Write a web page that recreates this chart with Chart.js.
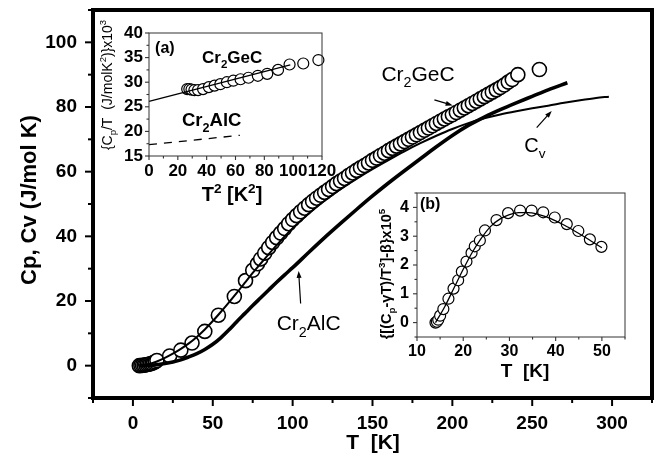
<!DOCTYPE html>
<html>
<head>
<meta charset="utf-8">
<script src="https://cdn.jsdelivr.net/npm/chart.js@4.4.1/dist/chart.umd.min.js"></script>
<style>
body{margin:0;background:#fff}
#wrap{position:relative;width:664px;height:462px;background:#fff}
canvas{position:absolute}
</style>
</head>
<body>
<div id="wrap">
<canvas id="mainChart" width="664" height="462" style="left:0;top:0"></canvas>
<canvas id="insetA" width="250" height="210" style="left:90px;top:0"></canvas>
<canvas id="insetB" width="290" height="210" style="left:360px;top:180px"></canvas>
</div>
<script>
// main panel: Cr2GeC (circles), Cr2AlC and Cv curves
const geT = [4,5,6,7,8,9,10,11,12,13,14,
  15,23,30,37,45,53.5,63.5,70.5,75,78,
  80,82.5,85,87.5,90,92.5,95,97.5,100,102.5,105,107.5,110,112.5,115,117.5,120,122.5,125,127.5,
  130,132.5,135,137.5,140,142.5,145,147.5,150,152.5,155,157.5,160,162.5,165,167.5,170,172.5,175,177.5,
  180,182.5,185,187.5,190,192.5,195,197.5,200,202.5,205,207.5,210,212.5,215,217.5,220,222.5,225,227.5,
  230,232.5,235,237.5,241,254.5];
const geCp = [0,0.05,0.1,0.15,0.25,0.35,0.45,0.6,0.75,0.95,1.2,
  1.6,3.0,4.8,7.0,10.6,15.6,21.4,26.3,29.5,31.5,
  33,34.8,36.5,38.1,39.6,41,42.4,43.9,45.2,46.4,47.6,48.7,49.8,50.8,51.8,52.7,53.6,54.5,55.4,56.3,
  57.1,57.9,58.8,59.6,60.4,61.2,61.9,62.7,63.5,64.2,65,65.7,66.5,67.2,67.9,68.6,69.3,70,70.7,71.4,
  72.1,72.8,73.5,74.2,74.9,75.6,76.3,77,77.6,78.3,79,79.7,80.4,81.1,81.8,82.5,83.2,83.9,84.6,85.3,
  86,86.8,87.7,88.5,90,91.6];

const alT = [4,8,12,16,20,25,30,35,40,45,50,55,60,65,70,75,80,85,90,95,100,
  110,120,130,140,150,160,170,180,190,200,210,220,230,240,250,260,272];
const alCp = [0,0.05,0.15,0.35,0.65,1.15,1.8,2.7,3.7,5.0,6.6,8.6,11.0,13.6,16.1,18.6,21.0,23.4,25.8,28.1,30.3,
  35,39.6,44,48.3,52.5,56.5,60.3,64,67.7,71.2,74.3,76.9,79.2,81.3,83.3,85.3,87.5];

const cvT = [4,10,15,20,25,30,35,40,45,50,55,60,65,70,75,80,
  90,100,110,120,130,140,150,160,170,180,190,200,210,220,230,240,250,260,270,280,290,298];
const cvCp = [0,0.5,1.3,2.4,3.7,5.2,6.9,8.9,11.2,13.8,16.6,19.5,22.5,25.6,28.7,31.6,
  37.3,42.5,47,51,54.6,57.8,60.8,63.6,66.3,68.8,71.1,73.2,75,76.5,77.7,78.7,79.6,80.4,81.3,82.1,82.8,83.2];

const mainXTicks = [0,50,100,150,200,250,300];
const mainXLabels = ['0','50','100','150','200','250','300'];
const mainYTicks = [0,20,40,60,80,100];
const mainYLabels = ['0','20','40','60','80','100'];

// inset (a): Cp/T vs T^2
const aT2 = [26.5,28,29.5,31.5,34,37.5,41.5,45.5,49.5,54,58.5,63.5,69,75.5,82,89.5,97.5,107,117.5];
const aVal = [28.6,28.6,28.5,28.4,28.4,28.6,29,29.3,29.6,30,30.3,30.6,30.9,31.3,31.7,32.5,33.6,33.8,34.5];
const aFitT2 = [0,98];
const aFitVal = [26.1,33.5];
const aAlT2 = [0,63];
const aAlVal = [17.3,19.2];
const aXTicks = [0,20,40,60,80,100,120];
const aXLabels = ['0','20','40','60','80','100','120'];
const aYTicks = [15,20,25,30,35,40];
const aYLabels = ['15','20','25','30','35','40'];

// inset (b)
const bT = [14.0,14.3,14.6,15.0,15.7,16.8,17.9,18.9,19.7,20.7,21.8,22.5,23.6,24.7,27.2,29.7,32.3,34.8,37.3,39.8,42.4,44.9,47.4,49.9];
const bVal = [0,0.03,0.1,0.24,0.47,0.83,1.18,1.47,1.77,2.12,2.42,2.65,2.85,3.2,3.56,3.8,3.89,3.89,3.83,3.65,3.42,3.18,2.89,2.63];
const bFitT = [14,16,18,20,22,24,26,28,30,32,34,36,38,40,42,44,46,48,50];
const bFitVal = [0,0.55,1.2,1.85,2.45,2.95,3.35,3.6,3.75,3.82,3.82,3.77,3.67,3.53,3.37,3.19,3.0,2.8,2.6];
const bXTicks = [10,20,30,40,50];
const bXLabels = ['10','20','30','40','50'];
const bYTicks = [0,1,2,3,4];
const bYLabels = ['0','1','2','3','4'];

const FONT = '"Liberation Sans", Arial, Helvetica, sans-serif';

function pts(xs, ys) { return xs.map((x, i) => ({x: x, y: ys[i]})); }

function drawRich(ctx, parts, x, y, size, weight, align, angle) {
  ctx.save();
  ctx.translate(x, y);
  if (angle) ctx.rotate(angle);
  const fonts = parts.map(p => weight + ' ' + (p[1] ? size * 0.68 : size) + 'px ' + FONT);
  let total = 0;
  parts.forEach((p, i) => { ctx.font = fonts[i]; total += ctx.measureText(p[0]).width; });
  let cx = align === 'center' ? -total / 2 : (align === 'right' ? -total : 0);
  ctx.textAlign = 'left';
  ctx.textBaseline = 'alphabetic';
  ctx.fillStyle = '#000';
  parts.forEach((p, i) => {
    ctx.font = fonts[i];
    const dy = p[1] === 'sub' ? size * 0.3 : (p[1] === 'sup' ? -size * 0.42 : 0);
    ctx.fillText(p[0], cx, dy);
    cx += ctx.measureText(p[0]).width;
  });
  ctx.restore();
}

function arrow(ctx, x1, y1, x2, y2) {
  const ang = Math.atan2(y2 - y1, x2 - x1);
  ctx.save();
  ctx.strokeStyle = '#000';
  ctx.fillStyle = '#000';
  ctx.lineWidth = 1.2;
  ctx.beginPath();
  ctx.moveTo(x1, y1);
  ctx.lineTo(x2 - 5 * Math.cos(ang), y2 - 5 * Math.sin(ang));
  ctx.stroke();
  ctx.beginPath();
  ctx.moveTo(x2, y2);
  ctx.lineTo(x2 - 7 * Math.cos(ang) + 2.5 * Math.sin(ang), y2 - 7 * Math.sin(ang) - 2.5 * Math.cos(ang));
  ctx.lineTo(x2 - 7 * Math.cos(ang) - 2.5 * Math.sin(ang), y2 - 7 * Math.sin(ang) + 2.5 * Math.cos(ang));
  ctx.closePath();
  ctx.fill();
  ctx.restore();
}

// frame, outward ticks (major + minor) and texts
const decor = {
  id: 'decor',
  afterDraw(chart, args, o) {
    const ctx = chart.ctx, a = chart.chartArea, x = chart.scales.x, y = chart.scales.y;
    ctx.save();
    ctx.strokeStyle = o.color;
    ctx.lineWidth = o.width;
    ctx.strokeRect(a.left, a.top, a.right - a.left, a.bottom - a.top);
    ctx.lineWidth = o.tickWidth;
    const tx = (vals, len) => vals.forEach(v => {
      const p = x.getPixelForValue(v);
      ctx.beginPath(); ctx.moveTo(p, a.bottom); ctx.lineTo(p, a.bottom + len); ctx.stroke();
    });
    const ty = (vals, len) => vals.forEach(v => {
      const p = y.getPixelForValue(v);
      ctx.beginPath(); ctx.moveTo(a.left, p); ctx.lineTo(a.left - len, p); ctx.stroke();
    });
    tx(o.xMajor, o.major); tx(o.xMinor, o.minor);
    ty(o.yMajor, o.major); ty(o.yMinor, o.minor);
    ctx.restore();
    (o.texts || []).forEach(t => {
      const px = t.data ? x.getPixelForValue(t.x) : t.x;
      const py = t.data ? y.getPixelForValue(t.y) : t.y;
      drawRich(ctx, t.parts, px, py, t.size, t.weight || 'normal', t.align || 'left', t.angle || 0);
    });
    (o.arrows || []).forEach(r => {
      arrow(ctx, x.getPixelForValue(r[0]), y.getPixelForValue(r[1]), x.getPixelForValue(r[2]), y.getPixelForValue(r[3]));
    });
  }
};

function axis(min, max, vals, labels, fixed, isX, size, pad) {
  return {
    type: 'linear', min: min, max: max,
    grid: {display: false, drawTicks: false},
    border: {display: false},
    afterBuildTicks: s => { s.ticks = vals.map(v => ({value: v})); },
    afterFit: s => {
      if (isX) s.height = fixed; else s.width = fixed;
      s.paddingTop = s.paddingBottom = s.paddingLeft = s.paddingRight = 0;
    },
    ticks: {
      padding: pad, color: '#000', autoSkip: false, maxRotation: 0, minRotation: 0,
      font: {family: FONT, size: size, weight: 'bold'},
      callback: v => { const i = vals.indexOf(v); return i < 0 ? '' : labels[i]; }
    }
  };
}

function baseOpts(pad, xAx, yAx, deco) {
  return {
    responsive: false, animation: false, events: [],
    layout: {padding: pad},
    plugins: {legend: {display: false}, tooltip: {enabled: false}, decor: deco},
    scales: {x: xAx, y: yAx}
  };
}

new Chart(document.getElementById('mainChart'), {
  type: 'scatter',
  plugins: [decor],
  data: {datasets: [
    {data: pts(cvT, cvCp), showLine: true, borderColor: '#000', borderWidth: 2, pointRadius: 0, cubicInterpolationMode: 'monotone'},
    {data: pts(alT, alCp), showLine: true, borderColor: '#000', borderWidth: 3.6, pointRadius: 0, cubicInterpolationMode: 'monotone'},
    {data: pts(geT, geCp), showLine: false, pointRadius: 7, pointBorderWidth: 1.6, pointBorderColor: '#000', pointBackgroundColor: '#fff'}
  ]},
  options: baseOpts({left: 0, top: 10, right: 12, bottom: 0},
    axis(-25, 325, mainXTicks, mainXLabels, 64, true, 19, 14),
    axis(-10, 110, mainYTicks, mainYLabels, 93, false, 19, 16),
    {
      color: '#000', width: 4, tickWidth: 2, major: 8, minor: 5,
      xMajor: mainXTicks, xMinor: [-25,25,75,125,175,225,275,325],
      yMajor: mainYTicks, yMinor: [-10,10,30,50,70,90,110],
      texts: [
        {x: 36, y: 200, parts: [['Cp, Cv (J/mol K)']], size: 22, weight: 'bold', align: 'center', angle: -Math.PI / 2},
        {x: 373, y: 449, parts: [['T  [K]']], size: 21, weight: 'bold', align: 'center'},
        {data: true, x: 155.6, y: 88.1, parts: [['Cr'], ['2', 'sub'], ['GeC']], size: 21},
        {data: true, x: 245, y: 66.2, parts: [['C'], ['v', 'sub']], size: 20},
        {data: true, x: 90, y: 10.9, parts: [['Cr'], ['2', 'sub'], ['AlC']], size: 21}
      ],
      arrows: [[188.75, 82.2, 200.2, 80.5], [252.8, 73.6, 262.2, 78.8], [105, 19.2, 103.75, 29.3]]
    })
});

new Chart(document.getElementById('insetA'), {
  type: 'scatter',
  plugins: [decor],
  data: {datasets: [
    {data: pts(aFitT2, aFitVal), showLine: true, borderColor: '#000', borderWidth: 1.3, pointRadius: 0, clip: false},
    {data: pts(aAlT2, aAlVal), showLine: true, borderColor: '#000', borderWidth: 1.3, borderDash: [8, 7], pointRadius: 0, clip: false},
    {data: pts(aT2, aVal), showLine: false, pointRadius: 5.5, pointBorderWidth: 1.2, pointBorderColor: '#000', pointBackgroundColor: '#fff', clip: false}
  ]},
  options: baseOpts({left: 0, top: 33, right: 18, bottom: 0},
    axis(0, 120, aXTicks, aXLabels, 54, true, 17, 5),
    axis(15, 40, aYTicks, aYLabels, 59, false, 17, 6),
    {
      color: '#333', width: 1, tickWidth: 1.1, major: 4, minor: 2.5,
      xMajor: aXTicks, xMinor: [10,30,50,70,90,110],
      yMajor: aYTicks, yMinor: [17.5,22.5,27.5,32.5,37.5],
      texts: [
        {x: 22, y: 85, parts: [['{C'], ['p', 'sub'], ['/T  (J/molK'], ['2', 'sup'], [')}x10'], ['3', 'sup']], size: 14, align: 'center', angle: -Math.PI / 2},
        {x: 142, y: 201, parts: [['T'], ['2', 'sup'], [' [K'], ['2', 'sup'], [']']], size: 20, weight: 'bold', align: 'center'},
        {data: true, x: 4.2, y: 36, parts: [['(a)']], size: 16, weight: 'bold'},
        {data: true, x: 36.8, y: 33.9, parts: [['Cr'], ['2', 'sub'], ['GeC']], size: 17, weight: 'bold'},
        {data: true, x: 22.9, y: 21, parts: [['Cr'], ['2', 'sub'], ['AlC']], size: 18.5, weight: 'bold'}
      ]
    })
});

new Chart(document.getElementById('insetB'), {
  type: 'scatter',
  plugins: [decor],
  data: {datasets: [
    {data: pts(bFitT, bFitVal), showLine: true, borderColor: '#000', borderWidth: 1.3, pointRadius: 0, cubicInterpolationMode: 'monotone', clip: false},
    {data: pts(bT, bVal), showLine: false, pointRadius: 5.5, pointBorderWidth: 1.2, pointBorderColor: '#000', pointBackgroundColor: '#fff', clip: false}
  ]},
  options: baseOpts({left: 0, top: 13, right: 25, bottom: 0},
    axis(10, 55, bXTicks, bXLabels, 53, true, 16, 5),
    axis(-0.5, 4.5, bYTicks, bYLabels, 57, false, 16, 8),
    {
      color: '#333', width: 1, tickWidth: 1.1, major: 4, minor: 2.5,
      xMajor: bXTicks, xMinor: [15,25,35,45,55],
      yMajor: bYTicks, yMinor: [-0.5,0.5,1.5,2.5,3.5,4.5],
      texts: [
        {x: 31, y: 94, parts: [['{[(C'], ['p', 'sub'], ['-\u03B3T)/T'], ['3', 'sup'], [']-\u03B2}x10'], ['5', 'sup']], size: 14.5, weight: 'bold', align: 'center', angle: -Math.PI / 2},
        {x: 165, y: 197, parts: [['T  [K]']], size: 19, weight: 'bold', align: 'center'},
        {data: true, x: 10.65, y: 3.95, parts: [['(b)']], size: 16, weight: 'bold'}
      ]
    })
});
</script>
</body>
</html>
